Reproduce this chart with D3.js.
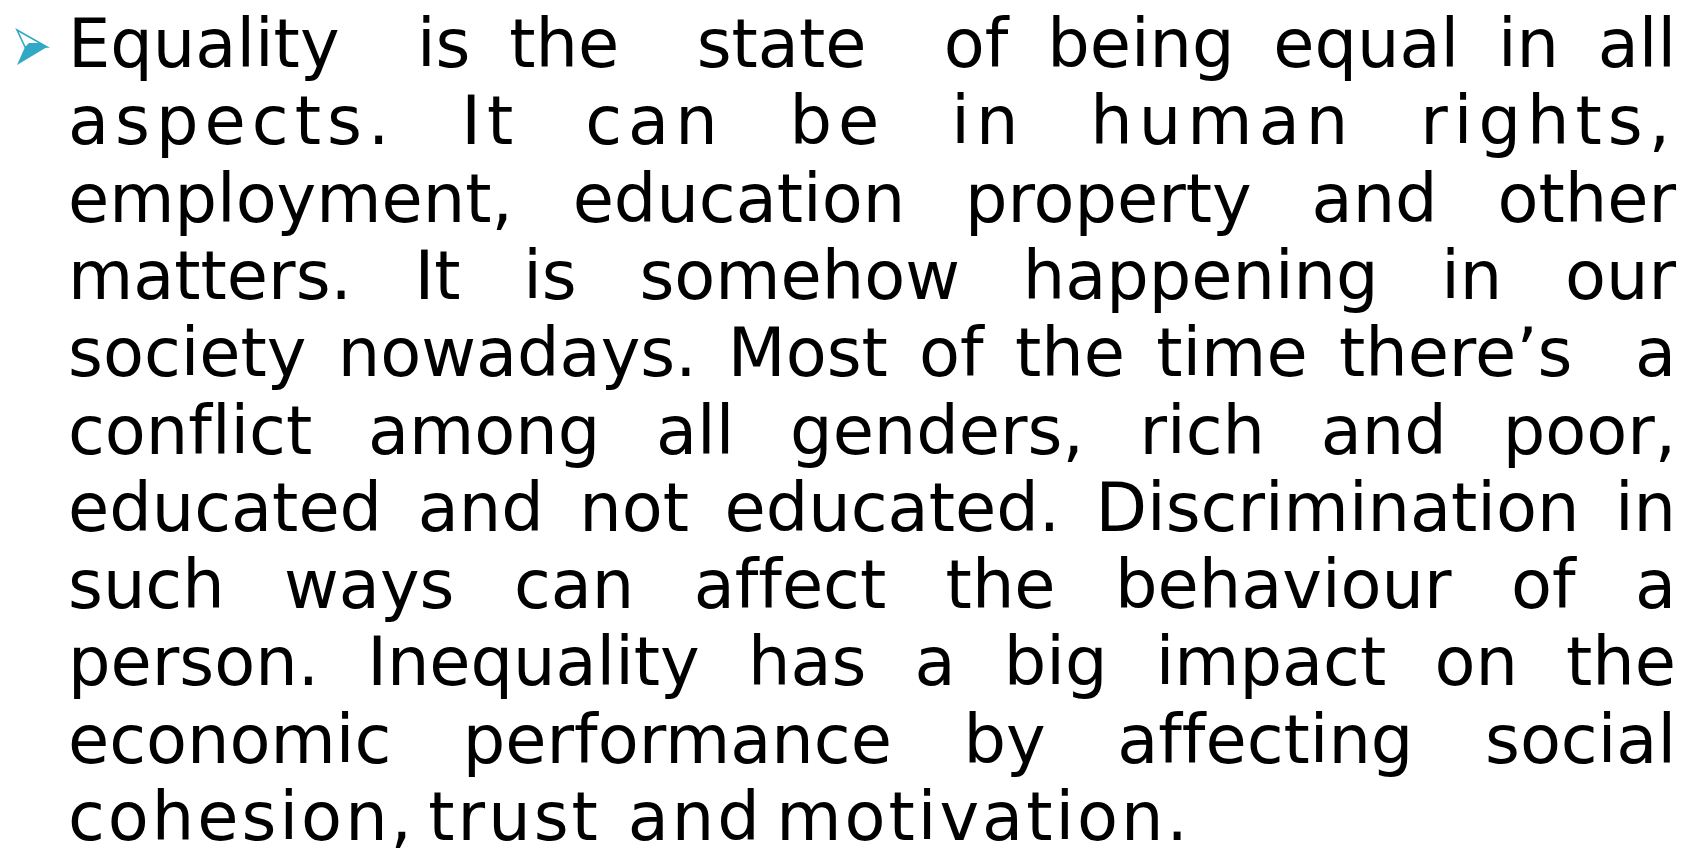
<!DOCTYPE html>
<html lang="en">
<head>
    <meta charset="UTF-8">
    <script src="https://d3js.org/d3.v7.min.js"></script>
    <title>Equality</title>
    <style>
        body { margin: 0; background: #fff; }
        .word { font-family: "DejaVu Sans", sans-serif; fill: #000; font-variant-ligatures: none; font-feature-settings: "liga" 0, "clig" 0; }
    </style>
</head>
<body>
    <svg width="1700" height="849"></svg>
    <script>
        // slide text, one entry per rendered line (double spaces kept as in the slide)
        var lines = [
            "Equality  is the  state  of being equal in all",
            "aspects. It can be in human rights,",
            "employment, education property and other",
            "matters. It is somehow happening in our",
            "society nowadays. Most of the time there\u2019s  a",
            "conflict among all genders, rich and poor,",
            "educated and not educated. Discrimination in",
            "such ways can affect the behaviour of a",
            "person. Inequality has a big impact on the",
            "economic performance by affecting social",
            "cohesion, trust  and motivation."
        ];
        var justified = [true, true, true, true, true, true, true, true, true, true, false];
        var letterSpacing = [0, 0.09, 0, 0, 0, 0, 0, 0, 0, 0, 0.045];

        var width = 1700, height = 849;
        var left = 68, right = 1676, top0 = 67, lineGap = 77.3, fontSize = 67;
        var svg = d3.select("svg");

        var y = d3.scaleLinear().domain([0, 1]).range([top0, top0 + lineGap]);

        // bullet arrowhead
        var teal = "#31a8c6";
        var bullet = svg.append("g");
        bullet.append("path")
            .attr("d", "M17,30 L47,47 L25,47 Z")
            .attr("fill", "#fff").attr("stroke", teal).attr("stroke-width", 1.6);
        bullet.append("path")
            .attr("d", "M25,47 L47,47 L17,65 Z")
            .attr("fill", teal);
        bullet.append("path")
            .attr("d", "M29,43 L40,43 L47,47 L25,47 Z")
            .attr("fill", teal);

        lines.forEach(function(line, i) {
            var tokens = line.split(" ");
            var words = [], spaces = [];
            tokens.forEach(function(tk) {
                if (tk === "") { spaces[spaces.length - 1] += 1; }
                else { words.push(tk); spaces.push(1); }
            });
            spaces.pop();
            var nSpaces = d3.sum(spaces);

            var g = svg.append("g").attr("class", "line");
            var t = g.selectAll("text").data(words).enter().append("text")
                .attr("class", "word")
                .attr("font-size", fontSize)
                .attr("letter-spacing", letterSpacing[i] + "em")
                .attr("y", y(i))
                .text(d => d);
            var widths = [];
            t.each(function() { widths.push(this.getComputedTextLength()); });
            var total = d3.sum(widths);
            var avail = right - left;
            var minUnit = fontSize * 0.22;
            var k = 1;
            if (total + minUnit * nSpaces > avail) {
                k = (avail - minUnit * nSpaces) / total;
            }
            var scaled = widths.map(w => w * k);
            var unit = justified[i] ? (avail - d3.sum(scaled)) / nSpaces : fontSize * 0.2;
            var x = left;
            t.each(function(d, j) {
                var el = d3.select(this).attr("x", x);
                if (k < 1) el.attr("textLength", scaled[j]).attr("lengthAdjust", "spacingAndGlyphs");
                x += scaled[j] + (spaces[j] || 0) * unit;
            });
        });
    </script>
</body>
</html>
